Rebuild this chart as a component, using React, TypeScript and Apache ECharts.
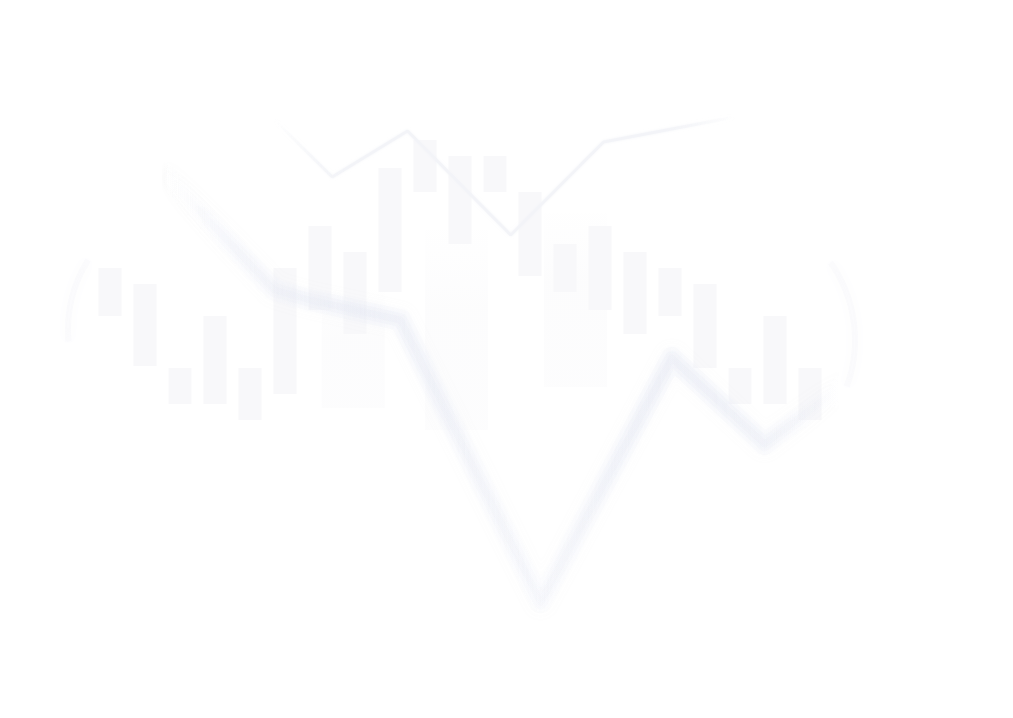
import React, { useEffect, useRef } from "react";
import * as echarts from "echarts";

// candle slots along the bottom axis
const slots = [
  "1", "2", "3", "4", "5", "6", "7", "8", "9", "10", "11",
  "12", "13", "14", "15", "16", "17", "18", "19", "20", "21",
];
const candleOpen = [76, 63.5, 54, 54, 50, 56.5, 77.5, 71.5, 82, 107, 94, 107, 86, 82, 77.5, 71.5, 76, 63, 54, 54, 50];
const candleClose = [88, 84, 63, 76, 63, 88, 98.5, 92, 113, 120, 116, 116, 107, 94, 98.5, 92, 88, 84, 63, 76, 63];

// thick blurred trend line (x in slot units)
const trendX = [1.5, 4.7, 5.7, 8.3, 12.3, 16.05, 18.7, 21.0];
const trendY = [112, 82.5, 80, 75, 4.5, 65.5, 44, 59];

// thin line near the top
const ridgeX = [4.7, 6.35, 8.5, 11.45, 14.1, 17.85];
const ridgeY = [125, 110.75, 122.25, 96.25, 119.5, 125.75];

// wide ghost blocks behind the candles
const blockX = [6.95, 9.9, 13.3];
const blockLow = [53, 47.5, 58.25];
const blockHigh = [82.5, 97.5, 101.75];

const fade = (c: string, a: number) =>
  new echarts.graphic.LinearGradient(1, 0, 0, 0, [
    { offset: 0, color: `rgba(${c},0)` },
    { offset: 0.15, color: `rgba(${c},${a})` },
    { offset: 0.85, color: `rgba(${c},${a})` },
    { offset: 1, color: `rgba(${c},0)` },
  ]);

const trendColor = (c: string, k: number) =>
  new echarts.graphic.LinearGradient(0, 0, 1, 0, [
    { offset: 0, color: `rgba(${c},0)` },
    { offset: 0.12, color: `rgba(${c},${0.45 * k})` },
    { offset: 0.3, color: `rgba(${c},${0.8 * k})` },
    { offset: 0.55, color: `rgba(${c},${0.35 * k})` },
    { offset: 0.72, color: `rgba(${c},${0.8 * k})` },
    { offset: 0.88, color: `rgba(${c},${0.65 * k})` },
    { offset: 1, color: `rgba(${c},0)` },
  ]);

// soft stroke built from a few stacked passes
const trendLayers = [
  { width: 22, k: 0.25 },
  { width: 14, k: 0.3 },
  { width: 7, k: 0.35 },
];

const arcStyle = {
  stroke: "rgba(249,249,251,0.6)",
  lineWidth: 6,
  fill: null,
  shadowBlur: 12,
  shadowColor: "rgba(248,248,250,1)",
};

export default function App() {
  const ref = useRef<HTMLDivElement>(null);

  useEffect(() => {
    if (!ref.current) return;
    const chart = echarts.init(ref.current, undefined, { renderer: "svg" });

    const trendPoints = trendX.map((x, i) => [x, trendY[i]]);

    const option: any = {
      animation: false,
      backgroundColor: "#ffffff",
      grid: { left: 92.5, right: 185.5, top: 100, bottom: 98 },
      xAxis: [
        { type: "category", data: slots, show: false },
        { type: "value", min: -0.5, max: 20.5, show: false },
      ],
      yAxis: { type: "value", min: 0, max: 130, show: false },
      graphic: [
        {
          type: "arc",
          silent: true,
          shape: { cx: 200, cy: 330, r: 132, startAngle: (175 * Math.PI) / 180, endAngle: (212 * Math.PI) / 180 },
          style: arcStyle,
        },
        {
          type: "arc",
          silent: true,
          shape: { cx: 720, cy: 340, r: 135, startAngle: (-35 * Math.PI) / 180, endAngle: (20 * Math.PI) / 180 },
          style: arcStyle,
        },
      ],
      series: [
        {
          type: "custom",
          xAxisIndex: 1,
          silent: true,
          z: 1,
          data: blockX.map((x, i) => [x, blockLow[i], blockHigh[i]]),
          renderItem: (_p: any, api: any) => {
            const lo = api.coord([api.value(0), api.value(1)]);
            const hi = api.coord([api.value(0), api.value(2)]);
            const w = api.size([1.8, 0])[0];
            return {
              type: "rect",
              shape: { x: lo[0] - w / 2, y: hi[1], width: w, height: lo[1] - hi[1] },
              style: {
                fill: new echarts.graphic.LinearGradient(0, 0, 0, 1, [
                  { offset: 0, color: "rgba(251,251,252,0.1)" },
                  { offset: 0.4, color: "rgba(251,251,252,0.7)" },
                  { offset: 1, color: "rgba(251,251,252,0.6)" },
                ]),
              },
            };
          },
        },
        {
          type: "candlestick",
          silent: true,
          z: 2,
          barWidth: 24,
          data: candleOpen.map((o, i) => [o, candleClose[i], Math.min(o, candleClose[i]), Math.max(o, candleClose[i])]),
          itemStyle: {
            color: "#f8f8fa",
            color0: "#f8f8fa",
            borderColor: "#f8f8fa",
            borderColor0: "#f8f8fa",
            borderWidth: 0,
          },
        },
        ...trendLayers.map((l) => ({
          type: "line",
          xAxisIndex: 1,
          silent: true,
          clip: false,
          z: 3,
          symbol: "none",
          data: trendPoints,
          lineStyle: {
            width: l.width,
            color: trendColor("231,234,244", l.k),
            shadowBlur: 8,
            shadowColor: "rgba(234,237,246,0.5)",
            cap: "round",
            join: "round",
          },
        })),
        {
          type: "line",
          xAxisIndex: 1,
          silent: true,
          clip: false,
          z: 3,
          symbol: "none",
          data: ridgeX.map((x, i) => [x, ridgeY[i]]),
          lineStyle: {
            width: 3,
            color: fade("243,244,248", 1),
            shadowBlur: 3,
            shadowColor: "rgba(243,244,248,0.8)",
          },
        },
      ],
    };

    chart.setOption(option);
    return () => chart.dispose();
  }, []);

  return (
    <div
      ref={ref}
      style={{ position: "fixed", left: 0, top: 0, width: 1013, height: 718, background: "#fff" }}
    />
  );
}
